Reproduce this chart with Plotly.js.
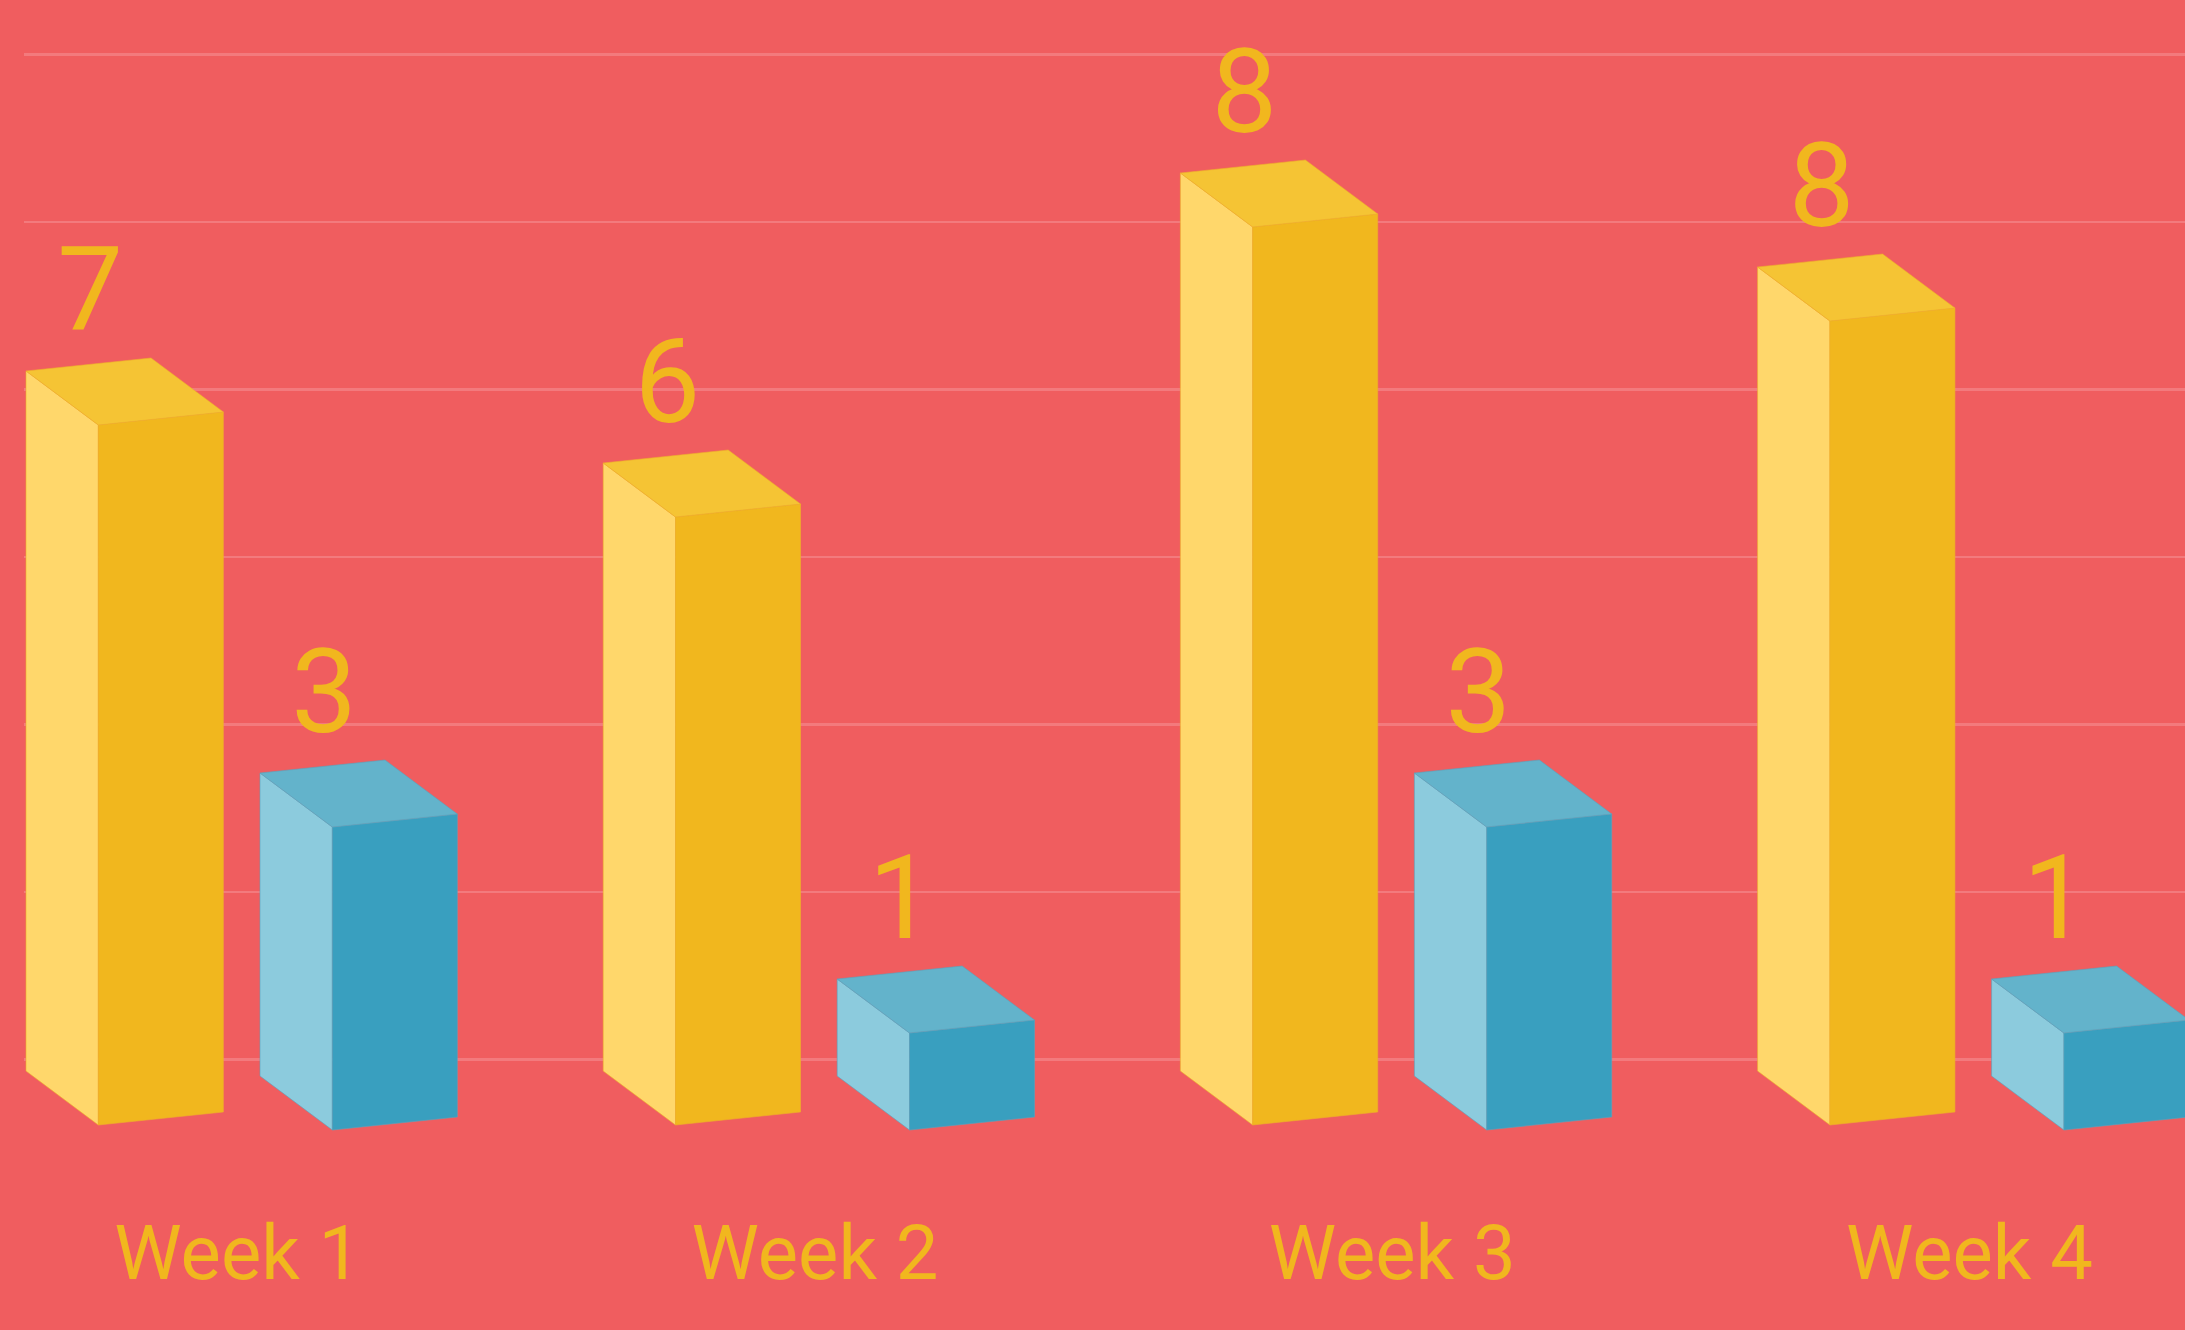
<!DOCTYPE html>
<html>
<head>
<meta charset="utf-8">
<script src="https://cdn.plot.ly/plotly-3.0.1.min.js"></script>
<style>
  html, body { margin: 0; padding: 0; background: #F05D5F; }
  #chart { width: 2185px; height: 1330px; }
</style>
</head>
<body>
<div id="chart"></div>
<script>
// ---- data ----
const weeks = ['Week 1', 'Week 2', 'Week 3', 'Week 4'];
const yellowValues = [7.0, 6.08, 8.98, 8.04];   // drawn bar heights
const yellowLabels = ['7', '6', '8', '8'];
const blueValues = [3.03, 0.97, 3.03, 0.97];
const blueLabels = ['3', '1', '3', '1'];

// ---- style constants (pseudo-3D box geometry, in axis units) ----
const SIDE_W = 0.1253, FRONT_W = 0.2166, DEPTH = 0.54, TILT = 0.13;
const BLUE_SHIFT = 0.4054, BLUE_BASE = -0.05;
const LABEL_DX = 0.111, LABEL_DY = 0.70, WEEK_DX = 0.367;
const FONT = 'Roboto, "Open Sans", sans-serif';

const COLORS = {
  bg: '#F05D5F', grid: '#F37A7D', text: '#F1B71E',
  yellow: { side: '#FFD76B', front: '#F1B71E', top: '#F5C434', edge: '#EFB02A' },
  blue:   { side: '#8CCBDD', front: '#399FBF', top: '#63B3CB', edge: '#5AA3BD' }
};

function facePolys(values, shift, base) {
  const side = { x: [], y: [] }, front = { x: [], y: [] }, top = { x: [], y: [] };
  values.forEach((v, i) => {
    const x0 = i + shift, t = base + v;
    const pushPoly = (obj, pts) => {
      pts.forEach(p => { obj.x.push(p[0]); obj.y.push(p[1]); });
      obj.x.push(pts[0][0]); obj.y.push(pts[0][1]);
      obj.x.push(null); obj.y.push(null);
    };
    pushPoly(side, [[x0, t], [x0 + SIDE_W, t - DEPTH], [x0 + SIDE_W, base - DEPTH], [x0, base]]);
    pushPoly(front, [[x0 + SIDE_W, t - DEPTH], [x0 + SIDE_W + FRONT_W, t - DEPTH + TILT],
                     [x0 + SIDE_W + FRONT_W, base - DEPTH + TILT], [x0 + SIDE_W, base - DEPTH]]);
    pushPoly(top, [[x0, t], [x0 + FRONT_W, t + TILT], [x0 + SIDE_W + FRONT_W, t - DEPTH + TILT], [x0 + SIDE_W, t - DEPTH]]);
  });
  return { side, front, top };
}

function boxTraces(values, shift, base, pal) {
  const f = facePolys(values, shift, base);
  return ['side', 'front', 'top'].map(k => ({
    type: 'scatter', mode: 'lines', x: f[k].x, y: f[k].y,
    fill: 'toself', fillcolor: pal[k],
    line: { color: pal.edge, width: 0.6 },
    hoverinfo: 'skip', showlegend: false
  }));
}

function labelTrace(values, labels, shift, base) {
  return {
    type: 'scatter', mode: 'text',
    x: values.map((v, i) => i + shift + LABEL_DX),
    y: values.map(v => base + v + LABEL_DY),
    text: labels, textposition: 'middle center',
    textfont: { family: FONT, size: 117, weight: 400, color: COLORS.text },
    cliponaxis: false, hoverinfo: 'skip', showlegend: false
  };
}

const data = [
  ...boxTraces(yellowValues, 0, 0, COLORS.yellow),
  ...boxTraces(blueValues, BLUE_SHIFT, BLUE_BASE, COLORS.blue),
  labelTrace(yellowValues, yellowLabels, 0, 0),
  labelTrace(blueValues, blueLabels, BLUE_SHIFT, BLUE_BASE)
];

const layout = {
  width: 2185, height: 1330,
  paper_bgcolor: COLORS.bg, plot_bgcolor: COLORS.bg,
  margin: { l: 24, r: 0, t: 0, b: 150, pad: 0 },
  showlegend: false,
  xaxis: {
    range: [-0.00347, 3.7405], showgrid: false, zeroline: false, showline: false,
    ticks: '', tickvals: weeks.map((w, i) => i + WEEK_DX), ticktext: weeks,
    tickfont: { family: FONT, size: 76, weight: 400, color: COLORS.text },
    ticklabelstandoff: 22, fixedrange: true
  },
  yaxis: {
    range: [-1.09, 10.71], showgrid: true, gridcolor: COLORS.grid, gridwidth: 2.5,
    tick0: 0.117, dtick: 1.675, zeroline: false, showline: false,
    showticklabels: false, ticks: '', fixedrange: true
  }
};

Plotly.newPlot('chart', data, layout, { displayModeBar: false, staticPlot: true });
</script>
</body>
</html>
